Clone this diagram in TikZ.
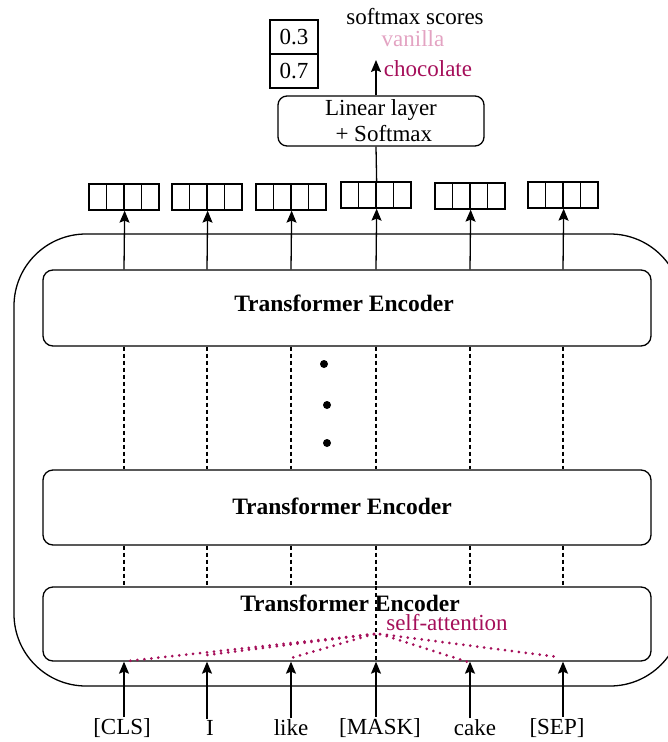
\documentclass[tikz,border=0pt]{standalone}
\usepackage{fontspec}
\setmainfont{Liberation Serif}
\usetikzlibrary{arrows.meta}
\definecolor{mag}{HTML}{A50F5A}
\definecolor{pinkv}{HTML}{E3A3C2}
\begin{document}
\begin{tikzpicture}[x=1pt,y=-1pt,
  font=\fontsize{23}{26}\selectfont,
  enc/.style={draw,rounded corners=10pt,minimum width=608pt,line width=1.3pt},
  vec/.style={draw,minimum width=17.5pt,minimum height=26pt,inner sep=0pt,line width=1.3pt},
  arr/.style={-{Stealth[length=12pt,width=10pt,inset=2pt]},line width=1.3pt},
  dl/.style={dash pattern=on 4pt off 3pt,line width=1.3pt},
  att/.style={mag,line width=3pt,line cap=round,dash pattern=on 0pt off 7pt},
  bf/.style={font=\fontsize{23.5}{26}\selectfont\bfseries}]
\useasboundingbox (0,0) rectangle (668,742);
\begin{scope}
\clip (0,0) rectangle (668,742);
\draw[rounded corners=72pt,line width=1.3pt] (14,234) rectangle (682,686);
\end{scope}
% encoders
\node[enc,minimum height=76pt] (e1) at (347,308) {};
\node[bf] (t1) at (344,303) {Transformer Encoder};
\node[enc,minimum height=75pt] (e2) at (347,507.5) {};
\node[bf] (t2) at (342,506) {Transformer Encoder};
\node[enc,minimum height=74pt] (e3) at (347,624) {};
\node[bf] (t3) at (350,603) {Transformer Encoder};
% columns
\foreach \i/\x/\y in {1/124/197,2/207/197,3/291/197,4/376/195,5/470/196,6/563/195}{
  \coordinate (c\i) at (\x,0);
  \node[vec] (v\i b) at (\x-8.75,\y) {};
  \node[vec] (v\i c) at (\x+8.75,\y) {};
  \node[vec] (v\i a) at (\x-26.25,\y) {};
  \node[vec] (v\i d) at (\x+26.25,\y) {};
  \draw[arr] (e1.north -| c\i) -- (v\i b.south east);
  \draw[dl] (e1.south -| c\i) -- (e2.north -| c\i);
  \draw[dl] (e2.south -| c\i) -- (e3.north -| c\i);
}
\draw[dl] (e3.north -| c4) -- (e3.south -| c4);
% dots
\node[circle,fill,inner sep=0pt,minimum size=8pt] (d1) at (324,364) {};
\node[circle,fill,inner sep=0pt,minimum size=8pt] (d2) at (327,405) {};
\node[circle,fill,inner sep=0pt,minimum size=8pt] (d3) at (327,443) {};
% input tokens
\node (w1) at (122,728) {[CLS]};
\node (w2) at (210,728) {I};
\node (w3) at (291,728) {like};
\node (w4) at (380,728) {[MASK]};
\node (w5) at (475,728) {cake};
\node (w6) at (557,728) {[SEP]};
\foreach \i in {1,...,6}{
  \draw[arr] ([yshift=-2pt]w\i.north -| c\i) -- (e3.south -| c\i);
}
% self attention
\node[mag] (sa) at (447,623) {self-attention};
\coordinate (sl) at (374,634);
\coordinate (sr) at (380,634);
\coordinate (p1) at (128,661);
\coordinate (p2) at (207,655);
\coordinate (p3) at (291,658);
\coordinate (p5) at (468,662);
\coordinate (p6) at (558,657);
\draw[att] (sl) -- (p1);
\draw[att] (sl) -- (p2);
\draw[att] (sl) -- (p3);
\draw[att] (sr) -- (p5);
\draw[att] (sr) -- (p6);
% linear layer
\node[draw,rounded corners=9pt,minimum width=206pt,minimum height=50pt,line width=1.3pt,align=center,inner sep=0pt] (lin) at (381,121) {Linear layer\\ \ + Softmax};
\draw[line width=1.3pt] (v4b.north east) -- (lin.south -| c4);
\coordinate (top) at (376,60);
\draw[arr] (lin.north -| c4) -- (top);
% scores
\node[draw,minimum width=48pt,minimum height=34pt,line width=1.3pt] (s1) at (294,37) {0.3};
\node[draw,minimum width=48pt,minimum height=34pt,line width=1.3pt] (s2) at (294,71) {0.7};
\node (ss) at (415,17) {softmax scores};
\node[pinkv] (van) at (413,39) {vanilla};
\node[mag] (cho) at (428,69) {chocolate};
\end{tikzpicture}
\end{document}
